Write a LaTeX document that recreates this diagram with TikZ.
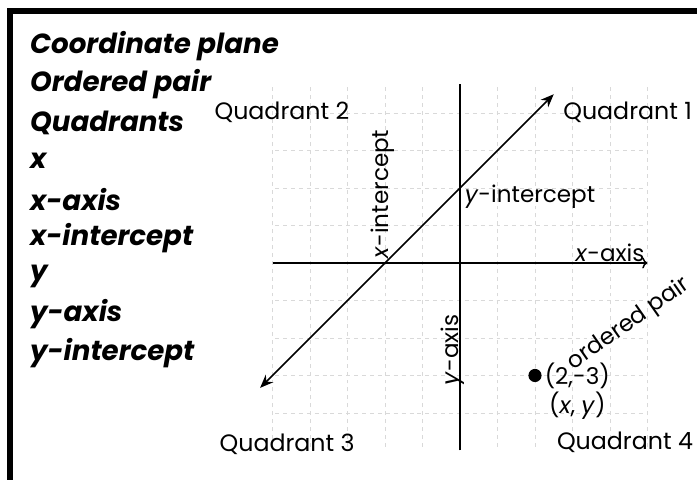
\documentclass[tikz,border=0pt]{standalone}
\usepackage{fontspec}
\setmainfont{Poppins}
\usetikzlibrary{arrows.meta, positioning}

\begin{document}
\begin{tikzpicture}[
            term/.style={anchor=west, font=\fontsize{21}{21}\selectfont\bfseries\itshape,
                         inner sep=0pt},
            quad/.style={font=\fontsize{18}{18}\selectfont, inner sep=0pt},
            lbl/.style={font=\fontsize{17.5}{17.5}\selectfont, inner sep=0pt},
            gridline/.style={gray!30, dashed, line width=0.6pt},
            axis/.style={line width=1.1pt},
            arr/.style={{Stealth[length=10pt,width=8pt]}-{Stealth[length=10pt,width=8pt]}, line width=1.3pt}]

            %% ── Frame ─────────────────────────────────────────────────────
            \useasboundingbox (-12.267,-5.787) rectangle (6.32,7.013);
            \draw[line width=4.5pt] (-12.0,-6.0) -- (-12.0,6.72) -- (6.5,6.72);

            %% ── Grid and axes ─────────────────────────────────────────────
            \foreach \i in {-5,...,-1,1,2,...,5}
                \draw[gridline] (\i,-4.9) -- (\i,4.75);
            \foreach \j in {-4,...,-1,1,2,...,4}
                \draw[gridline] (-4.93,\j) -- (4.88,\j);
            \coordinate (xl) at (-5,0);
            \coordinate (xr) at (5,0);
            \coordinate (yb) at (0,-5);
            \coordinate (yt) at (0,4.77);
            \draw[axis, -{To[length=4pt]}] (xl) -- (xr);
            \draw[axis] (yb) -- (yt);

            %% ── Line y = x + 2 ────────────────────────────────────────────
            \coordinate (lstart) at (-5.33,-3.33);
            \coordinate (lend)   at (2.5,4.5);
            \draw[arr] (lstart) -- (lend);

            %% ── Point ─────────────────────────────────────────────────────
            \node[circle, fill=black, inner sep=0pt, minimum size=10pt] (pt) at (2,-3) {};
            \node[lbl, right=2pt of pt] (ptval) {(2,-3)};
            \node[lbl, below=2pt of ptval] (ptxy) {(\textit{x}, \textit{y})};
            \node[lbl, rotate=35, anchor=base west] (ordpair) at (3.02,-2.86) {ordered pair};

            %% ── Labels ────────────────────────────────────────────────────
            \node[quad] (q1) at (4.47,4.03)   {Quadrant 1};
            \node[quad] (q2) at (-4.75,4.03) {Quadrant 2};
            \node[quad] (q3) at (-4.61,-4.83) {Quadrant 3};
            \node[quad] (q4) at (4.4,-4.77)  {Quadrant 4};
            \node[lbl, anchor=west] (yint) at (0.12,1.76) {\textit{y}-intercept};
            \node[lbl, rotate=90, anchor=west] (xint) at (-2.05,0.12) {\textit{x}-intercept};
            \node[lbl, rotate=90] (yax) at (-0.19,-2.32) {\textit{y}-axis};
            \node[lbl, anchor=base] (xax) at (4.0,0.03) {\textit{x}-axis};

            %% ── Vocabulary ────────────────────────────────────────────────
            \foreach \txt [count=\k from 0] in {Coordinate plane, Ordered pair, Quadrants,
                    x, x-axis, x-intercept, y, y-axis, y-intercept}
                \node[term] (term\k) at (-11.47,5.78-1.022*\k) {\txt};

        \end{tikzpicture}
\end{document}
